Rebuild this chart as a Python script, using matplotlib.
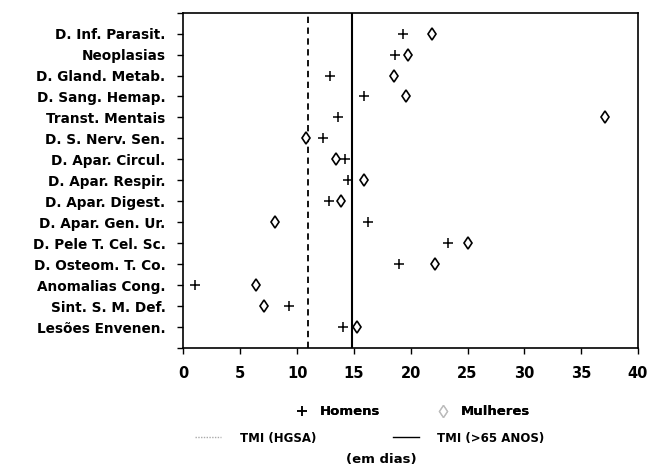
import numpy as np
import matplotlib
matplotlib.use('Agg')
import matplotlib.pyplot as plt
from matplotlib.lines import Line2D

plt.rcParams['font.family'] = ['DejaVu Sans']
plt.rcParams['font.weight'] = 'bold'

# grupos de doencas (de cima para baixo)
categorias = ['D. Inf. Parasit.', 'Neoplasias', 'D. Gland. Metab.', 'D. Sang. Hemap.',
              'Transt. Mentais', 'D. S. Nerv. Sen.', 'D. Apar. Circul.', 'D. Apar. Respir.',
              'D. Apar. Digest.', 'D. Apar. Gen. Ur.', 'D. Pele T. Cel. Sc.', 'D. Osteom. T. Co.',
              'Anomalias Cong.', 'Sint. S. M. Def.', 'Lesões Envenen.']
# tempo medio de internamento (dias)
homens = [19.3, 18.6, 12.9, 15.9, 13.6, 12.3, 14.2, 14.5, 12.8, 16.2, 23.3, 19.0, 1.0, 9.3, 14.0]
mulheres = [21.9, 19.8, 18.5, 19.6, 37.1, 10.8, 13.4, 15.9, 13.9, 8.1, 25.0, 22.1, 6.4, 7.1, 15.3]
tmi_hgsa = 11.0
tmi_65 = 14.8

fig = plt.figure(figsize=(6.52, 4.69), dpi=100)
ax = fig.add_axes([0.2814, 0.258, 0.697, 0.715])

y = np.arange(1, len(categorias) + 1)
ax.plot(homens, y, linestyle='none', marker='+', markersize=7.5, mew=1.1, color='black')
ax.plot(mulheres, y, linestyle='none', marker='d', markersize=6.5, mew=1.2,
        markerfacecolor='white', markeredgecolor='black')
ax.axvline(tmi_hgsa, color='black', linestyle=(0, (3.5, 2.5)), linewidth=1.3, zorder=0)
ax.axvline(tmi_65, color='black', linestyle='-', linewidth=1.5, zorder=0)

ax.set_xlim(0, 40)
ax.set_ylim(16, 0)
ax.set_xticks(np.arange(0, 41, 5))
ax.set_yticks(np.arange(0, 17))
ax.set_yticklabels([''] + categorias + [''])
ax.tick_params(axis='both', direction='out', length=4, width=1)
ax.tick_params(axis='y', labelsize=9.8, pad=9)
ax.tick_params(axis='x', labelsize=10.5, pad=9)
for s in ax.spines.values():
    s.set_linewidth(1.2)

h1 = [Line2D([], [], linestyle='none', marker='+', markersize=7.5, mew=1.1, color='black'),
      Line2D([], [], linestyle='none', marker='d', markersize=6, mew=1.0,
             markerfacecolor='white', markeredgecolor='#bbbbbb')]
leg1 = fig.legend(h1, ['Homens', 'Mulheres'], loc='center', bbox_to_anchor=(0.63, 0.122),
                  ncol=2, frameon=False, fontsize=9.5, columnspacing=4.0, handletextpad=0.6,
                  handlelength=1.5)
h2 = [Line2D([], [], color='#aaaaaa', linestyle=(0, (1, 1)), linewidth=1),
      Line2D([], [], color='black', linestyle='-', linewidth=1)]
leg2 = fig.legend(h2, ['TMI (HGSA)', 'TMI (>65 ANOS)'], loc='center', bbox_to_anchor=(0.567, 0.066),
                  ncol=2, frameon=False, fontsize=8.5, columnspacing=6.5, handletextpad=1.6,
                  handlelength=2.2)
fig.add_artist(leg1)
fig.text(0.585, 0.02, '(em dias)', ha='center', va='center', fontsize=9.5, fontweight='bold')

fig.savefig('out.png', dpi=100)
